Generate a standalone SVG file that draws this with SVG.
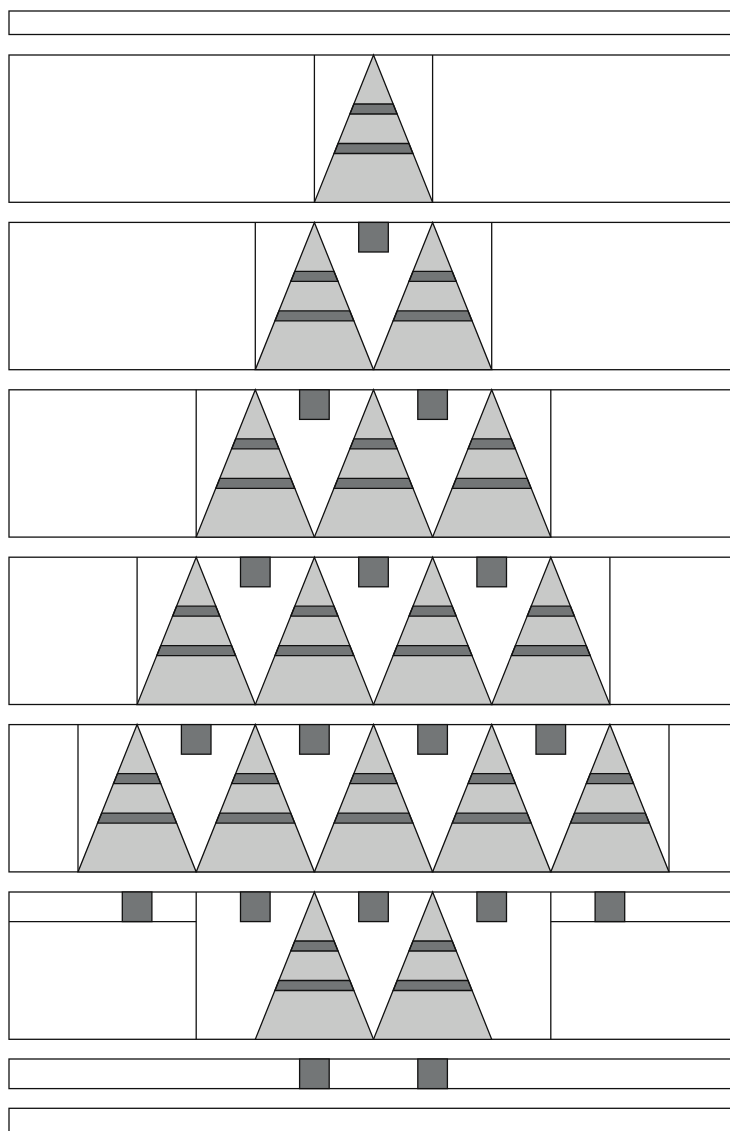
<svg xmlns="http://www.w3.org/2000/svg" width="730" height="1131" viewBox="0 0 730 1131">
<style>
.ln{fill:none;stroke:#111;stroke-width:1.3}
.box{fill:#fff;stroke:#111;stroke-width:1.3}
.sq{fill:#737677;stroke:#111;stroke-width:1.3}
.tf{fill:#c8c9c8;stroke:none}
.band{fill:#737677;stroke:#111;stroke-width:1.3}
.to{fill:none;stroke:#111;stroke-width:1.3;stroke-linejoin:miter}
</style>
<defs>
<g id="tree">
<polygon class="tf" points="0,0 59.1,147.3 -59.1,147.3"/>
<polygon class="band" points="-19.6,49 19.6,49 23.6,59 -23.6,59"/>
<polygon class="band" points="-35.4,88.5 35.4,88.5 39.4,98.5 -39.4,98.5"/>
<polygon class="to" points="0,0 59.1,147.3 -59.1,147.3"/>
</g>
<rect id="sq" class="sq" x="-14.8" y="0" width="29.6" height="29.6"/>
</defs>
<rect width="730" height="1131" fill="#fff"/>

<g id="row1">
<rect class="box" x="9" y="11" width="800" height="23.5"/>
</g>

<g id="row2">
<rect class="box" x="9" y="55" width="800" height="147.3"/>
<line class="ln" x1="314.4" y1="55" x2="314.4" y2="202.3"/>
<line class="ln" x1="432.6" y1="55" x2="432.6" y2="202.3"/>
<use href="#tree" x="373.5" y="55"/>
</g>

<g id="row3">
<rect class="box" x="9" y="222.4" width="800" height="147.3"/>
<line class="ln" x1="255.3" y1="222.4" x2="255.3" y2="369.7"/>
<line class="ln" x1="491.7" y1="222.4" x2="491.7" y2="369.7"/>
<use href="#tree" x="314.4" y="222.4"/>
<use href="#tree" x="432.6" y="222.4"/>
<use href="#sq" x="373.5" y="222.4"/>
</g>

<g id="row4">
<rect class="box" x="9" y="389.8" width="800" height="147.3"/>
<line class="ln" x1="196.2" y1="389.8" x2="196.2" y2="537.1"/>
<line class="ln" x1="550.8" y1="389.8" x2="550.8" y2="537.1"/>
<use href="#tree" x="255.3" y="389.8"/>
<use href="#tree" x="373.5" y="389.8"/>
<use href="#tree" x="491.7" y="389.8"/>
<use href="#sq" x="314.4" y="389.8"/>
<use href="#sq" x="432.6" y="389.8"/>
</g>

<g id="row5">
<rect class="box" x="9" y="557.2" width="800" height="147.3"/>
<line class="ln" x1="137.1" y1="557.2" x2="137.1" y2="704.5"/>
<line class="ln" x1="609.9" y1="557.2" x2="609.9" y2="704.5"/>
<use href="#tree" x="196.2" y="557.2"/>
<use href="#tree" x="314.4" y="557.2"/>
<use href="#tree" x="432.6" y="557.2"/>
<use href="#tree" x="550.8" y="557.2"/>
<use href="#sq" x="255.3" y="557.2"/>
<use href="#sq" x="373.5" y="557.2"/>
<use href="#sq" x="491.7" y="557.2"/>
</g>

<g id="row6">
<rect class="box" x="9" y="724.6" width="800" height="147.3"/>
<line class="ln" x1="78" y1="724.6" x2="78" y2="871.9"/>
<line class="ln" x1="669" y1="724.6" x2="669" y2="871.9"/>
<use href="#tree" x="137.1" y="724.6"/>
<use href="#tree" x="255.3" y="724.6"/>
<use href="#tree" x="373.5" y="724.6"/>
<use href="#tree" x="491.7" y="724.6"/>
<use href="#tree" x="609.9" y="724.6"/>
<use href="#sq" x="196.2" y="724.6"/>
<use href="#sq" x="314.4" y="724.6"/>
<use href="#sq" x="432.6" y="724.6"/>
<use href="#sq" x="550.8" y="724.6"/>
</g>

<g id="row7">
<rect class="box" x="9" y="892" width="800" height="147.3"/>
<line class="ln" x1="9" y1="921.6" x2="196.2" y2="921.6"/>
<line class="ln" x1="550.8" y1="921.6" x2="800" y2="921.6"/>
<line class="ln" x1="196.2" y1="892" x2="196.2" y2="1039.3"/>
<line class="ln" x1="550.8" y1="892" x2="550.8" y2="1039.3"/>
<use href="#tree" x="314.4" y="892"/>
<use href="#tree" x="432.6" y="892"/>
<use href="#sq" x="137.1" y="892"/>
<use href="#sq" x="255.3" y="892"/>
<use href="#sq" x="373.5" y="892"/>
<use href="#sq" x="491.7" y="892"/>
<use href="#sq" x="609.9" y="892"/>
</g>

<g id="row8">
<rect class="box" x="9" y="1059" width="800" height="29.6"/>
<use href="#sq" x="314.4" y="1059"/>
<use href="#sq" x="432.6" y="1059"/>
</g>

<g id="row9">
<rect class="box" x="9" y="1108.3" width="800" height="100"/>
</g>
</svg>
